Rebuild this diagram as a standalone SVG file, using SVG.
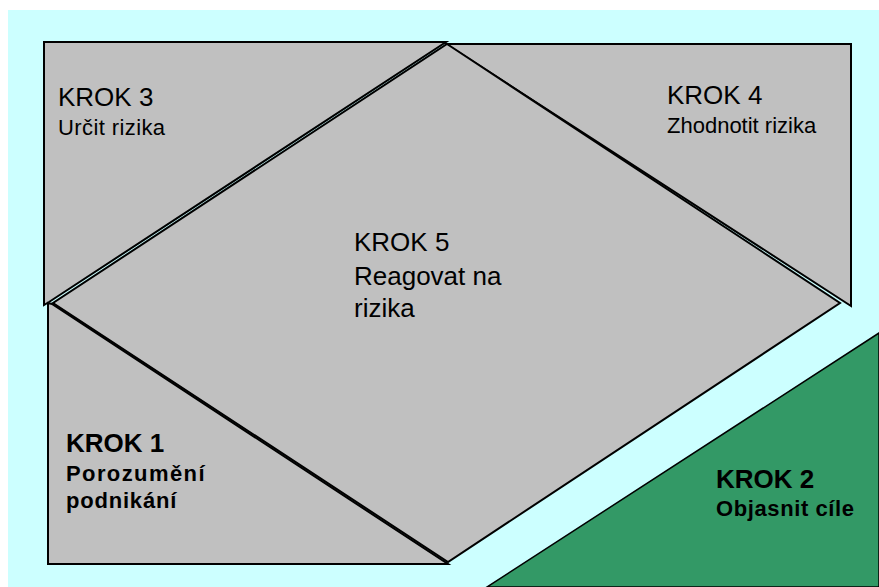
<svg xmlns="http://www.w3.org/2000/svg" width="879" height="587" viewBox="0 0 879 587">
<style>
.shape{fill:#c0c0c0;stroke:#000;stroke-width:2;stroke-linejoin:miter}
.t{font-family:"Liberation Sans",Arial,sans-serif;fill:#000}
.h{font-size:26px}
.s{font-size:22px}
.b{font-weight:bold}
</style>
<rect x="0" y="0" width="879" height="587" fill="#ffffff"/>
<rect x="8" y="10" width="871" height="577" fill="#ccffff"/>
<g id="krok2">
<polygon points="879,333 879,587 487,587" fill="#339966" stroke="#000" stroke-width="1.5"/>
<text class="t h b" x="716" y="488">KROK 2</text>
<text class="t s b" x="716" y="516" letter-spacing="0.6">Objasnit cíle</text>
</g>
<g id="krok3">
<polygon class="shape" points="44,42 446,42 49,302 44,305"/>
<text class="t h" x="58" y="106">KROK 3</text>
<text class="t s" x="58" y="135" letter-spacing="0.4">Určit rizika</text>
</g>
<g id="krok4">
<polygon class="shape" points="446,44 851,44 851,306"/>
<text class="t h" x="667" y="104">KROK 4</text>
<text class="t s" x="667" y="133">Zhodnotit rizika</text>
</g>
<g id="krok1">
<polygon class="shape" points="48,303 52,304 448,564 48,564"/>
<text class="t h b" x="66" y="452">KROK 1</text>
<text class="t s b" x="66" y="481" letter-spacing="1.4">Porozumění</text>
<text class="t s b" x="66" y="508" letter-spacing="0.8">podnikání</text>
</g>
<g id="krok5">
<polygon class="shape" points="447,44 840,303 448,562 53,303"/>
<text class="t h" x="354" y="251">KROK 5</text>
<text class="t h" x="354" y="285">Reagovat na</text>
<text class="t h" x="354" y="317">rizika</text>
</g>
</svg>
